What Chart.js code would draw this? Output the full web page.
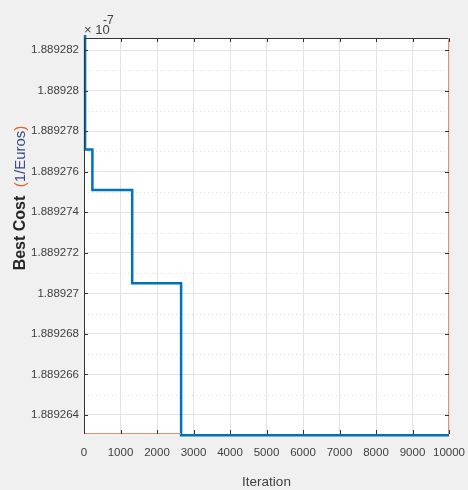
<!DOCTYPE html>
<html>
<head>
<meta charset="utf-8">
<script src="https://cdn.jsdelivr.net/npm/chart.js@4.4.1/dist/chart.umd.min.js"></script>
<style>
  html, body { margin: 0; padding: 0; background: #f0f0f0; }
  #wrap { width: 468px; height: 490px; }
</style>
</head>
<body>
<div id="wrap"><canvas id="c" width="468" height="490"></canvas></div>
<script>
// iteration where each new best cost begins, and that cost
const iterations = [1, 30, 230, 1320, 2660, 10000];
const bestCost = [1.889290, 1.8892771, 1.8892751, 1.8892705, 1.889263, 1.889263];

const xTicks = [0, 1000, 2000, 3000, 4000, 5000, 6000, 7000, 8000, 9000, 10000];
const yTicks = [1.889264, 1.889266, 1.889268, 1.88927, 1.889272, 1.889274,
                1.889276, 1.889278, 1.88928, 1.889282];
const yMinor = [1.889265, 1.889267, 1.889269, 1.889271, 1.889273, 1.889275,
                1.889277, 1.889279, 1.889281];

const family = '"Liberation Sans", Arial, sans-serif';
const font = { family, size: 11.5 };
const tickColor = '#404040';

const matlabFrame = {
    id: 'matlabFrame',
    beforeDraw(chart) {
        const { ctx, chartArea: a } = chart;
        ctx.save();
        ctx.fillStyle = '#f0f0f0';
        ctx.fillRect(0, 0, chart.width, chart.height);
        ctx.fillStyle = '#ffffff';
        ctx.fillRect(a.left, a.top, a.right - a.left, a.bottom - a.top);
        ctx.restore();
    },
    beforeDatasetsDraw(chart) {
        const { ctx, chartArea: a, scales } = chart;
        ctx.save();
        ctx.strokeStyle = '#dcdcdc';
        ctx.lineWidth = 1;
        ctx.setLineDash([1, 3]);
        yMinor.forEach(v => {
            const y = Math.round(scales.y.getPixelForValue(v)) + 0.5;
            ctx.beginPath();
            ctx.moveTo(a.left, y);
            ctx.lineTo(a.right, y);
            ctx.stroke();
        });
        ctx.restore();
    },
    afterDraw(chart) {
        const { ctx, chartArea: a, scales } = chart;
        ctx.save();
        // axes box
        ctx.lineWidth = 1;
        ctx.strokeStyle = '#333333';
        ctx.beginPath();
        ctx.moveTo(a.left + 0.5, a.bottom);
        ctx.lineTo(a.left + 0.5, a.top + 0.5);
        ctx.lineTo(a.right, a.top + 0.5);
        ctx.stroke();
        ctx.strokeStyle = '#e0916e';
        ctx.beginPath();
        ctx.moveTo(a.right - 0.5, a.top);
        ctx.lineTo(a.right - 0.5, a.bottom);
        ctx.stroke();
        ctx.beginPath();
        ctx.moveTo(a.left, a.bottom - 0.5);
        ctx.lineTo(scales.x.getPixelForValue(iterations[4]), a.bottom - 0.5);
        ctx.stroke();

        // inward tick marks
        ctx.strokeStyle = '#333333';
        xTicks.forEach(v => {
            const x = Math.round(scales.x.getPixelForValue(v)) + 0.5;
            ctx.beginPath();
            ctx.moveTo(x, a.top); ctx.lineTo(x, a.top + 4);
            ctx.moveTo(x, a.bottom); ctx.lineTo(x, a.bottom - 4);
            ctx.stroke();
        });
        yTicks.forEach(v => {
            const y = Math.round(scales.y.getPixelForValue(v)) + 0.5;
            ctx.beginPath();
            ctx.moveTo(a.left, y); ctx.lineTo(a.left + 4, y);
            ctx.moveTo(a.right, y); ctx.lineTo(a.right - 4, y);
            ctx.stroke();
        });

        // exponent label
        ctx.fillStyle = tickColor;
        ctx.font = '13px ' + family;
        ctx.textBaseline = 'alphabetic';
        ctx.textAlign = 'left';
        ctx.fillText('\u00d7 10', a.left, a.top - 4);
        ctx.font = '12px ' + family;
        ctx.fillText('-7', a.left + 19, a.top - 14);

        // y axis title: "Best Cost" dark, brackets orange, unit blue
        ctx.translate(21, 198);
        ctx.rotate(-Math.PI / 2);
        ctx.textBaseline = 'middle';
        const parts = [
            ['Best Cost', '#262626', 'bold 16px '],
            ['  (', '#d9662f', '15px '],
            ['1/Euros', '#3b4a8c', '15px '],
            [')', '#d9662f', '15px ']
        ];
        let total = 0;
        parts.forEach(p => { ctx.font = p[2] + family; total += ctx.measureText(p[0]).width; });
        let x = -total / 2;
        parts.forEach(([t, c, f]) => {
            ctx.font = f + family;
            ctx.fillStyle = c;
            ctx.fillText(t, x, 0);
            x += ctx.measureText(t).width;
        });
        ctx.restore();
    }
};

new Chart(document.getElementById('c'), {
    type: 'line',
    data: {
        datasets: [{
            data: iterations.map((x, i) => ({ x, y: bestCost[i] })),
            borderColor: '#0072bd',
            borderWidth: 2.5,
            stepped: 'before',
            pointRadius: 0,
            fill: false,
            clip: 3
        }]
    },
    options: {
        responsive: false,
        animation: false,
        layout: { padding: { top: 38, right: 19, left: 0, bottom: 0 } },
        plugins: { legend: { display: false }, tooltip: { enabled: false } },
        scales: {
            x: {
                type: 'linear',
                min: 0,
                max: 10000,
                afterBuildTicks: s => { s.ticks = xTicks.map(v => ({ value: v })); },
                afterFit: s => { s.height = 56; s.paddingLeft = 0; s.paddingRight = 0; },
                ticks: {
                    font, color: tickColor, padding: 12, maxRotation: 0, autoSkip: false,
                    callback: v => String(v)
                },
                grid: { color: '#e3e3e3', drawTicks: false },
                border: { display: false },
                title: {
                    display: true, text: 'Iteration', font: { family, size: 13.5 },
                    color: tickColor, padding: { top: 3, bottom: 0 }
                }
            },
            y: {
                type: 'linear',
                min: 1.88926306,
                max: 1.8892826,
                afterBuildTicks: s => { s.ticks = yTicks.map(v => ({ value: v })); },
                afterFit: s => { s.width = 84; },
                ticks: {
                    font, color: tickColor, padding: 5, autoSkip: false,
                    callback: v => String(parseFloat(v.toFixed(6)))
                },
                grid: { color: '#e3e3e3', drawTicks: false },
                border: { display: false }
            }
        }
    },
    plugins: [matlabFrame]
});
</script>
</body>
</html>
